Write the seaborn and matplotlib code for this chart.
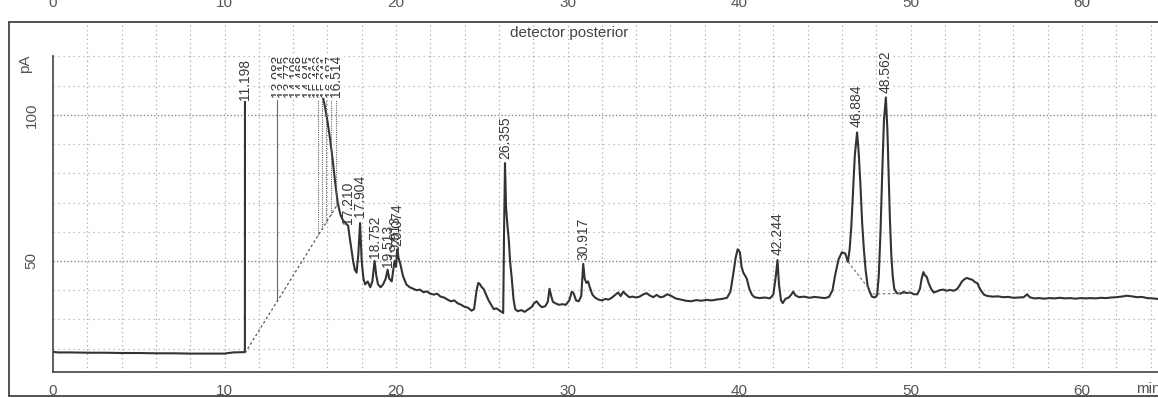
import numpy as np
import pandas as pd
import matplotlib
matplotlib.use("Agg")
import matplotlib.pyplot as plt
from matplotlib.patches import Rectangle
from matplotlib.lines import Line2D
import seaborn as sns

# ---------------- data ----------------
# early part: baseline, off-scale solvent peak (11.2-15.3 min) and its tail
t_early = [0.0, 0.3, 1, 2, 3, 4, 5, 6, 7, 8, 9, 10, 10.5, 11.1, 11.19, 11.2, 15.3,
           15.42, 15.55, 15.7, 15.85, 16.0, 16.15, 16.3, 16.45, 16.6, 16.75, 16.9, 17.05,
           17.21, 17.3, 17.4, 17.5, 17.6, 17.7, 17.8, 17.904, 18.0, 18.1, 18.2, 18.35,
           18.5, 18.62, 18.752, 18.85, 18.95, 19.1, 19.25, 19.4, 19.513, 19.6, 19.75,
           19.913, 20.0, 20.074, 20.15, 20.25, 20.4, 20.6, 20.8]
v_early = [18.9, 18.7, 18.7, 18.6, 18.6, 18.5, 18.5, 18.4, 18.4, 18.3, 18.3, 18.3, 18.7, 18.8, 18.8, 300, 300,
           120, 112, 107, 103, 98, 92, 85, 77, 70, 66, 64, 63,
           62, 58, 54, 50, 47, 46, 52, 63, 50, 44, 42, 43,
           41, 43, 50, 45, 42, 41, 42, 44, 47, 44, 43,
           50, 48, 54, 51, 49, 45, 42, 41]

t_mid = [21.0, 21.2, 21.4, 21.6, 21.8, 22.0, 22.2, 22.4, 22.6, 22.8, 23.0, 23.2, 23.4, 23.6, 23.8,
         24.0, 24.2, 24.4, 24.55, 24.7, 24.8, 24.9, 25.0, 25.1, 25.25, 25.4, 25.55, 25.7, 25.85,
         26.0, 26.15, 26.25, 26.3, 26.355, 26.42, 26.5, 26.58, 26.65, 26.75, 26.85, 26.95,
         27.1, 27.3, 27.5, 27.7, 27.9, 28.05, 28.2, 28.35, 28.5, 28.7, 28.85, 28.95, 29.05,
         29.15, 29.3, 29.5, 29.7, 29.9, 30.1, 30.25, 30.35, 30.5, 30.65, 30.8, 30.917, 31.0,
         31.1, 31.2, 31.3, 31.45, 31.6, 31.8, 32.0, 32.2, 32.4, 32.6, 32.8, 32.95, 33.1,
         33.25, 33.4, 33.6, 33.8, 34.0, 34.2, 34.4, 34.6, 34.8, 35.0, 35.2, 35.4, 35.6,
         35.8, 36.0, 36.3, 36.6, 36.9, 37.2, 37.5, 37.8, 38.1, 38.4, 38.7, 39.0, 39.3]
v_mid = [40.5, 40.0, 40.2, 39.3, 39.6, 38.8, 38.5, 38.8, 37.8, 37.5, 36.8, 36.2, 36.5, 35.5, 35.0,
         34.3, 34.0, 33.0, 33.5, 40.0, 42.5, 42.0, 41.0, 40.5, 38.5, 36.5, 35.0, 33.5, 33.8,
         33.2, 32.6, 32.2, 60.0, 83.5, 68.0, 62.0, 57.0, 50.0, 44.0, 37.0, 33.5,
         32.8, 33.2, 32.6, 33.4, 34.2, 35.5, 36.2, 35.0, 34.2, 34.5, 36.0, 40.5, 38.0,
         36.0, 35.5, 35.0, 35.2, 35.0, 36.5, 39.5, 39.0, 36.5, 36.2, 38.0, 49.0, 44.0,
         42.5, 43.0, 41.0, 38.5, 37.5, 36.8, 36.5, 37.0, 36.8, 37.5, 38.5, 39.2, 38.0,
         39.5, 38.6, 37.6, 37.8, 37.5, 37.8, 38.5, 39.0, 38.2, 37.6, 38.4, 37.6, 37.8,
         38.6, 38.2, 37.2, 36.8, 36.4, 36.2, 36.6, 36.4, 36.7, 36.5, 36.8, 37.0, 37.4]

t_late = [39.5, 39.65, 39.8, 39.92, 40.05, 40.15, 40.25, 40.35, 40.45, 40.6, 40.75, 40.9,
          41.2, 41.5, 41.8, 42.0, 42.15, 42.244, 42.33, 42.45, 42.55, 42.7, 42.9, 43.05,
          43.15, 43.3, 43.5, 43.8, 44.1, 44.4, 44.7, 45.0, 45.25, 45.45, 45.6, 45.8, 46.0,
          46.2, 46.35, 46.45, 46.55, 46.65, 46.75, 46.884, 46.98, 47.08, 47.18, 47.28,
          47.38, 47.5, 47.62, 47.75, 47.9, 48.05, 48.15, 48.25, 48.35, 48.45, 48.562,
          48.65, 48.72, 48.8, 48.88, 48.96, 49.05, 49.2, 49.4, 49.6, 49.8, 50.0, 50.2,
          50.4, 50.55, 50.65, 50.75, 50.85, 50.95, 51.05, 51.2, 51.35, 51.5, 51.7, 51.9,
          52.1, 52.3, 52.5, 52.7, 52.85, 53.0, 53.15, 53.3, 53.45, 53.6, 53.75, 53.9,
          54.0, 54.15, 54.3, 54.5, 54.8, 55.1, 55.4, 55.7, 56.0, 56.3, 56.6, 56.8, 56.95,
          57.2, 57.5, 57.8, 58.1, 58.4, 58.7, 59.0, 59.3, 59.6, 59.9, 60.2, 60.5, 60.8,
          61.1, 61.4, 61.7, 62.0, 62.3, 62.6, 62.9, 63.2, 63.5, 63.8, 64.1, 64.43]
v_late = [39.5, 45.0, 51.0, 54.0, 53.0, 48.0, 46.0, 45.0, 44.0, 40.5, 38.5, 37.6,
          37.3, 37.5, 37.2, 38.5, 45.0, 50.3, 42.0, 36.5, 35.6, 37.0, 37.5, 38.5,
          39.5, 38.2, 37.6, 37.8, 37.4, 37.7, 37.5, 37.3, 37.7, 40.0, 45.0, 50.5, 53.0,
          52.5, 49.7, 54.0, 62.0, 74.0, 86.0, 94.0, 87.0, 76.0, 63.0, 54.0,
          47.0, 41.5, 39.5, 37.8, 37.5, 38.2, 45.0, 60.0, 80.0, 98.0, 106.0,
          95.0, 80.0, 64.0, 52.0, 45.0, 40.5, 39.0, 38.8, 39.4, 39.0, 39.2, 38.6,
          38.6, 40.5, 44.0, 46.2, 45.0, 44.5, 42.5, 40.5, 39.2, 39.5, 40.0, 40.2,
          39.8, 40.1, 39.8, 40.3, 41.5, 43.0, 43.8, 44.2, 43.8, 43.6, 42.8, 42.4,
          41.0, 39.5, 38.4, 38.0, 37.8, 37.9, 37.6, 37.7, 37.4, 37.5, 37.6, 38.6, 37.6,
          37.2, 37.3, 37.1, 37.3, 37.2, 37.4, 37.2, 37.3, 37.1, 37.3, 37.2, 37.3, 37.2,
          37.4, 37.3, 37.5, 37.6, 37.8, 38.1, 37.9, 37.6, 37.7, 37.3, 37.2, 37.0]

# peak annotations (retention time, label base in pA)
peak_labels = ["11.198", "13.083", "13.415", "13.772", "14.106", "14.468", "14.845",
               "15.214", "15.462", "15.703", "15.941", "16.187", "16.514",
               "17.210", "17.904", "18.752", "19.513", "19.913", "20.074",
               "26.355", "30.917", "42.244", "46.884", "48.562"]
peak_times = [11.198, 13.083, 13.415, 13.772, 14.106, 14.468, 14.845,
              15.214, 15.462, 15.703, 15.941, 16.187, 16.514,
              17.210, 17.904, 18.752, 19.513, 19.913, 20.074,
              26.355, 30.917, 42.244, 46.884, 48.562]
peak_label_base = [105, 106, 106, 106, 106, 106, 106,
                   106, 106, 106, 106, 106, 106,
                   62.5, 65, 51, 48, 51, 55,
                   85, 50.5, 52, 96, 107.5]
# peaks that get a drop line to the integration baseline
drop_times = [13.083, 15.462, 15.703, 15.941, 16.187, 16.514]

x_ticks = [0, 10, 20, 30, 40, 50, 60]
y_ticks = [50, 100]

# ---------------- style ----------------
sns.set_style("white")
plt.rcParams['font.family'] = ['Liberation Sans', 'DejaVu Sans']

W, H = 1158, 398
fig = plt.figure(figsize=(W / 100, H / 100), dpi=100)
ax = fig.add_axes([53 / W, 26 / H, 1105 / W, 350 / H])

df = pd.DataFrame({"time": t_early + t_mid + t_late,
                   "signal": v_early + v_mid + v_late})
sns.lineplot(data=df, x="time", y="signal", ax=ax, sort=False, estimator=None,
             color="#333333", lw=1.5)
trace = ax.lines[0]
trace.set_clip_path(Rectangle((0, 12), 70, 106, transform=ax.transData))

XMAX = 64.43
ax.set_xlim(0, XMAX)
ax.set_ylim(12, 131.8)
ax.set_xlabel("")
ax.set_ylabel("")

# grid
for t in np.arange(2, 65, 2):
    ax.axvline(t, color="#a8a8a8", ls=(0, (1, 2.5)), lw=0.9, zorder=0)
for v in range(20, 121, 10):
    if v in y_ticks:
        ax.axhline(v, color="#8a8a8a", ls=(0, (1, 1.5)), lw=1.0, zorder=0)
    else:
        ax.axhline(v, color="#b0b0b0", ls=(0, (1, 3)), lw=0.9, zorder=0)

# integration baselines
ax.plot([11.198, 16.65], [18.5, 70], color="#555555", ls=(0, (2, 2)), lw=0.9)
ax.plot([46.36, 47.64], [49.7, 40], color="#777777", ls=(0, (2, 2)), lw=0.9)
ax.plot([47.8, 50.0], [38.7, 39.0], color="#777777", ls=(0, (2, 2)), lw=0.9)
for t in drop_times:
    vb = 18.5 + (t - 11.198) * (70 - 18.5) / (16.65 - 11.198)
    ax.plot([t, t], [vb, 105], color="#666666", lw=0.8,
            ls="-" if t < 15 else (0, (1, 1)))

# peak labels
for lab, t, vb in zip(peak_labels, peak_times, peak_label_base):
    top = vb > 100
    ax.text(t, vb, lab, rotation=90, ha="center", va="bottom", fontsize=10,
            color="#3a3a3a",
            bbox=dict(fc="white", ec="none", pad=0.3) if top else None)

# spines and ticks
for s in ["top", "right"]:
    ax.spines[s].set_visible(False)
ax.spines["left"].set_bounds(12, 120)
for s in ["left", "bottom"]:
    ax.spines[s].set_color("#444444")
    ax.spines[s].set_linewidth(1.2)

ax.set_xticks(x_ticks)
ax.set_xticks(np.arange(0, 65, 2), minor=True)
ax.set_yticks(y_ticks)
ax.set_yticks(np.arange(20, 121, 10), minor=True)
ax.tick_params(axis="x", which="major", direction="inout", length=7, width=1,
               color="#444444", labelsize=11, labelcolor="#555555", pad=5)
ax.tick_params(axis="x", which="minor", direction="inout", length=4, width=1,
               color="#444444")
ax.tick_params(axis="y", which="major", direction="inout", length=7, width=1,
               color="#444444", labelsize=11, labelcolor="#555555", pad=7)
ax.tick_params(axis="y", which="minor", direction="inout", length=4, width=1,
               color="#444444")
for lbl in ax.get_yticklabels():
    lbl.set_rotation(90)
    lbl.set_va("center")

# title inside plot
ax.text(30.1, 128, "detector posterior", ha="center", va="center", fontsize=11,
        color="#444444")

# axis unit labels
fig.text(25 / W, 1 - 64 / H, "pA", rotation=90, ha="center", va="center",
         fontsize=11, color="#555555")
fig.text(1148 / W, 1 - 389 / H, "min", ha="center", va="center", fontsize=11,
         color="#555555")

# outer frame of the scanned report
frame_kw = dict(color="#444444", lw=1.3, transform=fig.transFigure)
fig.add_artist(Line2D([9 / W, 1], [1 - 22 / H, 1 - 22 / H], **frame_kw))
fig.add_artist(Line2D([9 / W, 9 / W], [1 - 22 / H, 1 - 396 / H], **frame_kw))
fig.add_artist(Line2D([9 / W, 1], [1 - 396 / H, 1 - 396 / H], **frame_kw))

# cut-off tick labels of the panel above
for k in x_ticks:
    xp = 53 + 17.15 * k
    fig.text(xp / W, 1 - 3 / H, str(k), ha="center", va="center", fontsize=11,
             color="#555555")

fig.savefig("out.png", dpi=100)
